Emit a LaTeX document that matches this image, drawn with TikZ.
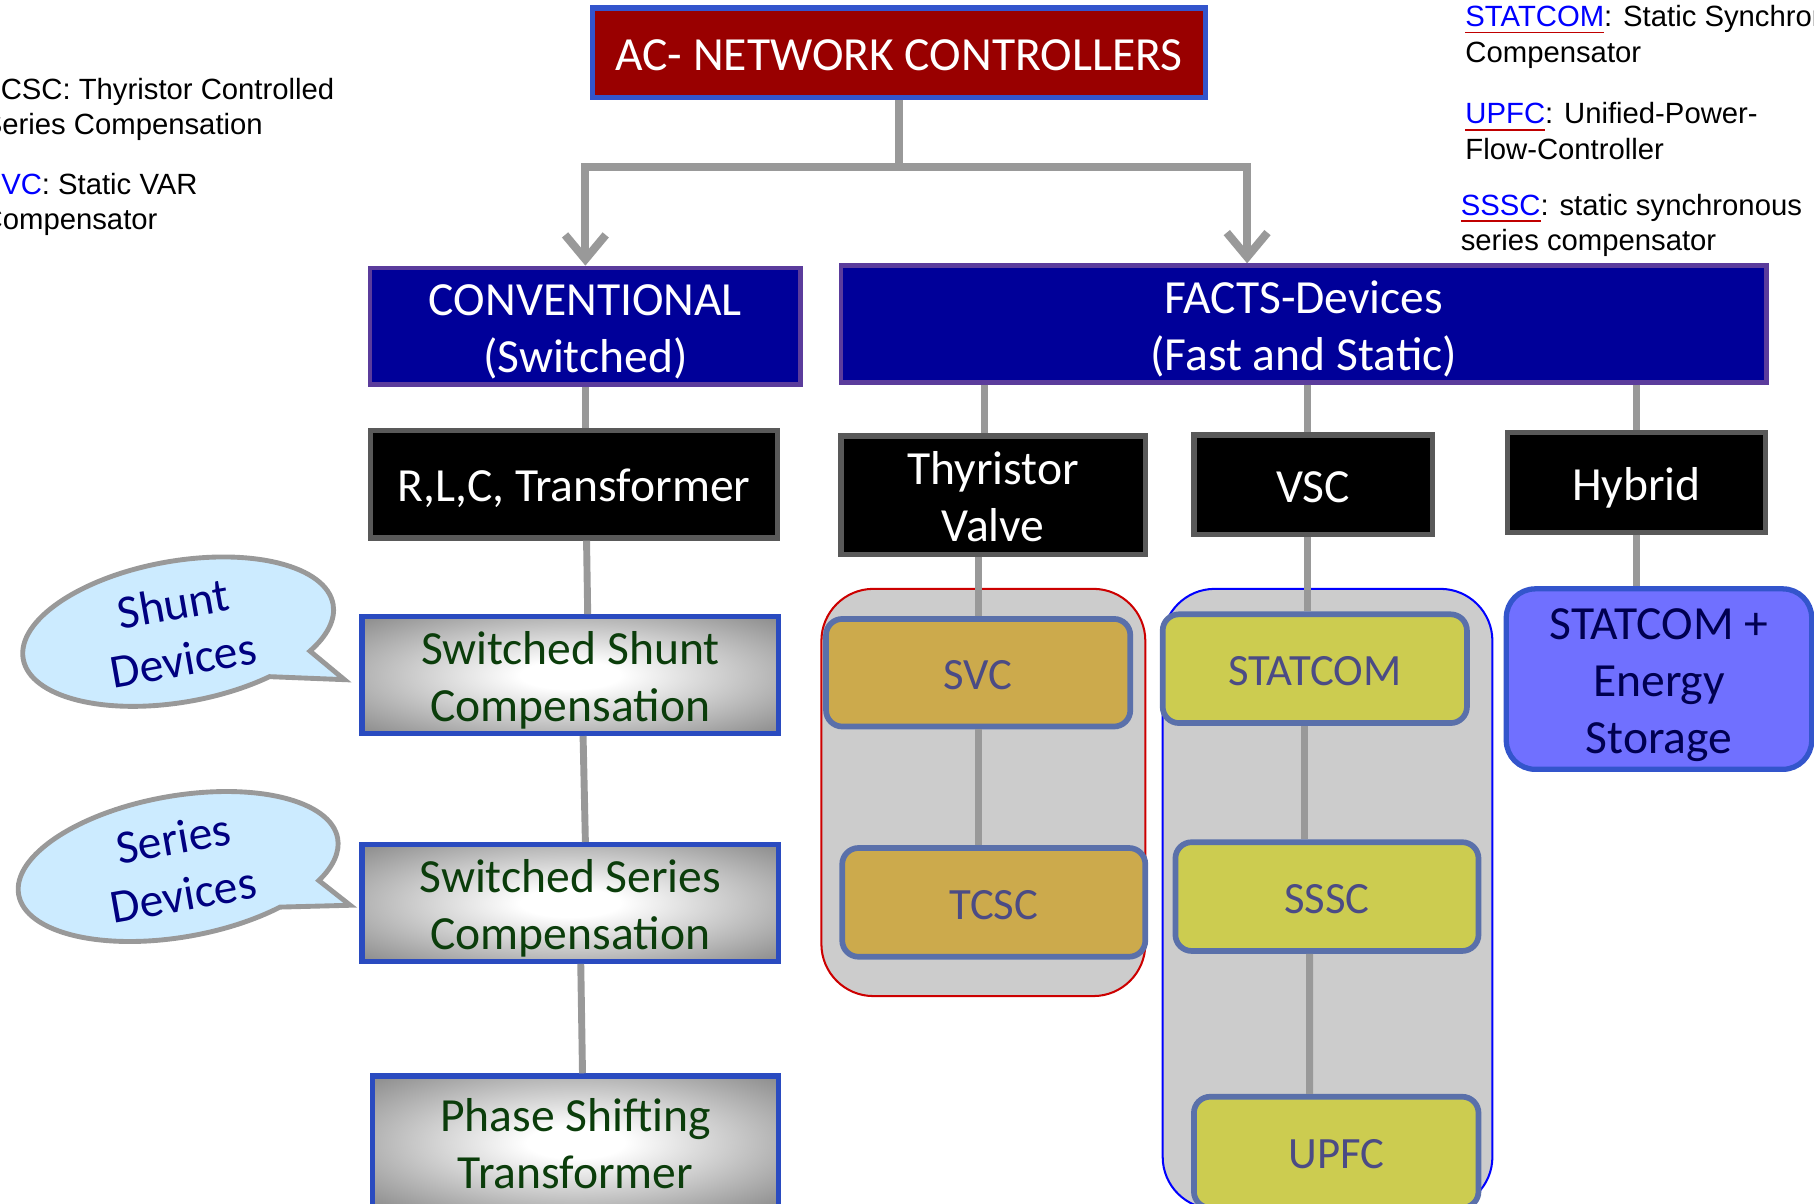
\documentclass[tikz,border=0pt]{standalone}
\usepackage{fontspec}
\setmainfont{Carlito}
\newfontfamily\arialfont{Liberation Sans}
\usetikzlibrary{arrows.meta,shapes.callouts}
\definecolor{acred}{HTML}{990000}
\definecolor{acblue}{HTML}{3355CC}
\definecolor{navyfill}{HTML}{000099}
\definecolor{navyrim}{HTML}{5B3C9C}
\definecolor{rimgray}{HTML}{595959}
\definecolor{wiregray}{HTML}{999999}
\definecolor{swblue}{HTML}{2A4BC0}
\definecolor{swgreen}{HTML}{0B3D0B}
\definecolor{bubfill}{HTML}{CCEBFF}
\definecolor{bubtext}{HTML}{000080}
\definecolor{grpgray}{HTML}{CCCCCC}
\definecolor{grpred}{HTML}{CC0000}
\definecolor{grpblue}{HTML}{0000FF}
\definecolor{thygold}{HTML}{CCAA4C}
\definecolor{vscyellow}{HTML}{CCCC50}
\definecolor{devrim}{HTML}{5A70AA}
\definecolor{devtext}{HTML}{4B4B85}
\definecolor{storefill}{HTML}{7070FF}
\definecolor{storetext}{HTML}{000050}
\definecolor{linkblue}{HTML}{0000FF}
\definecolor{ulred}{HTML}{C00000}
\newcommand\ctrlfont{\fontsize{11.7pt}{14pt}\selectfont}
\newcommand\devfont{\fontsize{11pt}{13pt}\selectfont}
\newcommand\notefont{\arialfont\fontsize{7.2pt}{8.7pt}\selectfont}
\newcommand\acro[1]{\textcolor{ulred}{\underline{\textcolor{linkblue}{#1}}}}
\pgfdeclareradialshading{swshade}{\pgfpoint{0bp}{0bp}}{color(0bp)=(white);color(6bp)=(white);color(35bp)=(black!45);color(50bp)=(black!55);color(72bp)=(black!62)}
\tikzset{%
  ctrlbox/.style   = {shape=rectangle, draw, align=center, inner sep=0pt,%
                      font=\ctrlfont, text height=11.7pt, text depth=3pt},%
  twoline/.style   = {text height=25.7pt},%
  threeline/.style = {text height=39.7pt},%
  topbox/.style    = {ctrlbox, fill=acred, draw=acblue, line width=1.3pt, text=white},%
  branchbox/.style = {ctrlbox, twoline, fill=navyfill, draw=navyrim, line width=1.1pt,%
                      text=white},%
  kindbox/.style   = {ctrlbox, fill=black, draw=rimgray, line width=1.3pt, text=white},%
  swbox/.style     = {ctrlbox, twoline, shade, shading=swshade, draw=swblue,%
                      line width=1.3pt, text=swgreen},%
  devbox/.style    = {ctrlbox, rounded corners=4pt, draw=devrim, line width=1.4pt,%
                      text=devtext, font=\devfont, text height=11.2pt},%
  groupbox/.style  = {rectangle, rounded corners=0.45cm, fill=grpgray, line width=0.5pt},%
  bubble/.style    = {ellipse callout, draw=wiregray, fill=bubfill, line width=1.2pt,%
                      text=bubtext, align=center, inner sep=0pt, font=\ctrlfont,%
                      rotate=10, callout pointer arc=22},%
  wire/.style      = {draw=wiregray, line width=1.7pt},%
  note/.style      = {anchor=north west, align=left, inner sep=0pt, font=\notefont}%
}
\begin{document}
\begin{tikzpicture}
  \useasboundingbox (0,0) rectangle (15.68,-10.40);
  \clip (0,0) rectangle (15.68,-10.40);
  \node[note] (tcscnote) at (-0.155,-0.67) {TCSC: Thyristor Controlled\\Series Compensation};
  \node[note] (svcnote) at (-0.165,-1.49) {\textcolor{linkblue}{SVC}: Static VAR\\Compensator};
  \node[note] (statcomnote) at (12.66,-0.04) {\acro{STATCOM}: Static Synchronous\\Compensator};
  \node[note] (upfcnote) at (12.66,-0.88) {\acro{UPFC}: Unified-Power-\\Flow-Controller};
  \node[note] (ssscnote) at (12.62,-1.67) {\acro{SSSC}: static synchronous\\series compensator};

  \node[topbox, minimum width=5.3cm, minimum height=0.77cm] (ac) at (7.77,-0.455) {AC- NETWORK CONTROLLERS};
  \node[branchbox, minimum width=3.72cm, minimum height=1cm] (conv) at (5.06,-2.82) {CONVENTIONAL\\(Switched)};
  \node[branchbox, minimum width=8cm, minimum height=1cm] (facts) at (11.27,-2.80) {FACTS-Devices\\(Fast and Static)};
  \node[kindbox, minimum width=3.52cm, minimum height=0.93cm] (rlc) at (4.96,-4.185) {R,L,C, Transformer};
  \node[kindbox, twoline, minimum width=2.63cm, minimum height=1.02cm] (thy) at (8.585,-4.28) {Thyristor\\Valve};
  \node[kindbox, minimum width=2.06cm, minimum height=0.86cm] (vsc) at (11.35,-4.19) {VSC};
  \node[kindbox, minimum width=2.23cm, minimum height=0.86cm] (hyb) at (14.145,-4.17) {Hybrid};

  \node[groupbox, draw=grpred, minimum width=2.8cm, minimum height=3.52cm] (thygroup) at (8.50,-6.85) {};
  \node[groupbox, draw=grpblue, minimum width=2.85cm, minimum height=5.36cm] (vscgroup) at (11.475,-7.77) {};

  \node[swbox, minimum width=3.6cm, minimum height=0.99cm] (shunt) at (4.93,-5.835) {Switched Shunt\\Compensation};
  \node[swbox, minimum width=3.6cm, minimum height=0.99cm] (series) at (4.93,-7.805) {Switched Series\\Compensation};
  \node[swbox, minimum width=3.51cm, minimum height=1.15cm] (phase) at (4.975,-9.875) {Phase Shifting\\Transformer};

  \node[bubble, minimum width=2.72cm, minimum height=1.22cm,%
        callout absolute pointer={([xshift=-1.3mm,yshift=-0.4mm]shunt.west)}] (shuntnote) at (1.54,-5.46) {Shunt\\Devices};
  \node[bubble, minimum width=2.8cm, minimum height=1.22cm,%
        callout absolute pointer={([xshift=-0.8mm,yshift=-0.2mm]series.west)}] (seriesnote) at (1.54,-7.49) {Series\\Devices};

  \node[devbox, fill=thygold, minimum width=2.63cm, minimum height=0.93cm] (svc) at (8.455,-5.815) {SVC};
  \node[devbox, fill=thygold, minimum width=2.62cm, minimum height=0.94cm] (tcsc) at (8.59,-7.80) {TCSC};
  \node[devbox, fill=vscyellow, minimum width=2.63cm, minimum height=0.94cm] (statcom) at (11.365,-5.78) {STATCOM};
  \node[devbox, fill=vscyellow, minimum width=2.62cm, minimum height=0.94cm] (sssc) at (11.47,-7.75) {SSSC};
  \node[devbox, fill=vscyellow, minimum width=2.46cm, minimum height=0.96cm] (upfc) at (11.55,-9.96) {UPFC};
  \node[ctrlbox, threeline, fill=storefill, draw=acblue, rounded corners=0.25cm, line width=1.3pt,%
        text=storetext, minimum width=2.64cm, minimum height=1.56cm] (store) at (14.34,-5.87) {STATCOM +\\Energy\\Storage};

  \draw[wire, line width=2pt] (ac.south) -- ++(0,-0.58) coordinate (split);
  \draw[wire, line width=2pt, -{Straight Barb[length=6pt,width=10pt]}] (split) -| (conv.north);
  \draw[wire, line width=2pt, -{Straight Barb[length=6pt,width=10pt]}] (split) -| ([xshift=-4.9mm]facts.north);

  \draw[wire] (conv.south) -- (conv.south |- rlc.north);
  \draw[wire] ([xshift=1.1mm]rlc.south) -- ([xshift=1.5mm]shunt.north);
  \draw[wire] ([xshift=1.1mm]shunt.south) -- ([xshift=1.3mm]series.north);
  \draw[wire] ([xshift=0.9mm]series.south) -- ([xshift=0.6mm]phase.north);
  \draw[wire] ([xshift=-0.75mm]thy.north |- facts.south) -- ([xshift=-0.75mm]thy.north);
  \draw[wire] ([xshift=-0.5mm]vsc.north |- facts.south) -- ([xshift=-0.5mm]vsc.north);
  \draw[wire] (hyb.north |- facts.south) -- (hyb.north);
  \draw[wire] (thy.south -| svc.north) -- (svc.north);
  \draw[wire] (svc.south) -- (svc.south |- tcsc.north);
  \draw[wire] ([xshift=-0.5mm]vsc.south) -- ([xshift=-0.5mm]vsc.south |- statcom.north);
  \draw[wire] ([xshift=-0.9mm]statcom.south) -- ([xshift=-0.9mm]statcom.south |- sssc.north);
  \draw[wire] ([xshift=-1.5mm]sssc.south) -- ([xshift=-2.3mm]upfc.north);
  \draw[wire] (hyb.south) -- (hyb.south |- store.north);
\end{tikzpicture}
\end{document}
